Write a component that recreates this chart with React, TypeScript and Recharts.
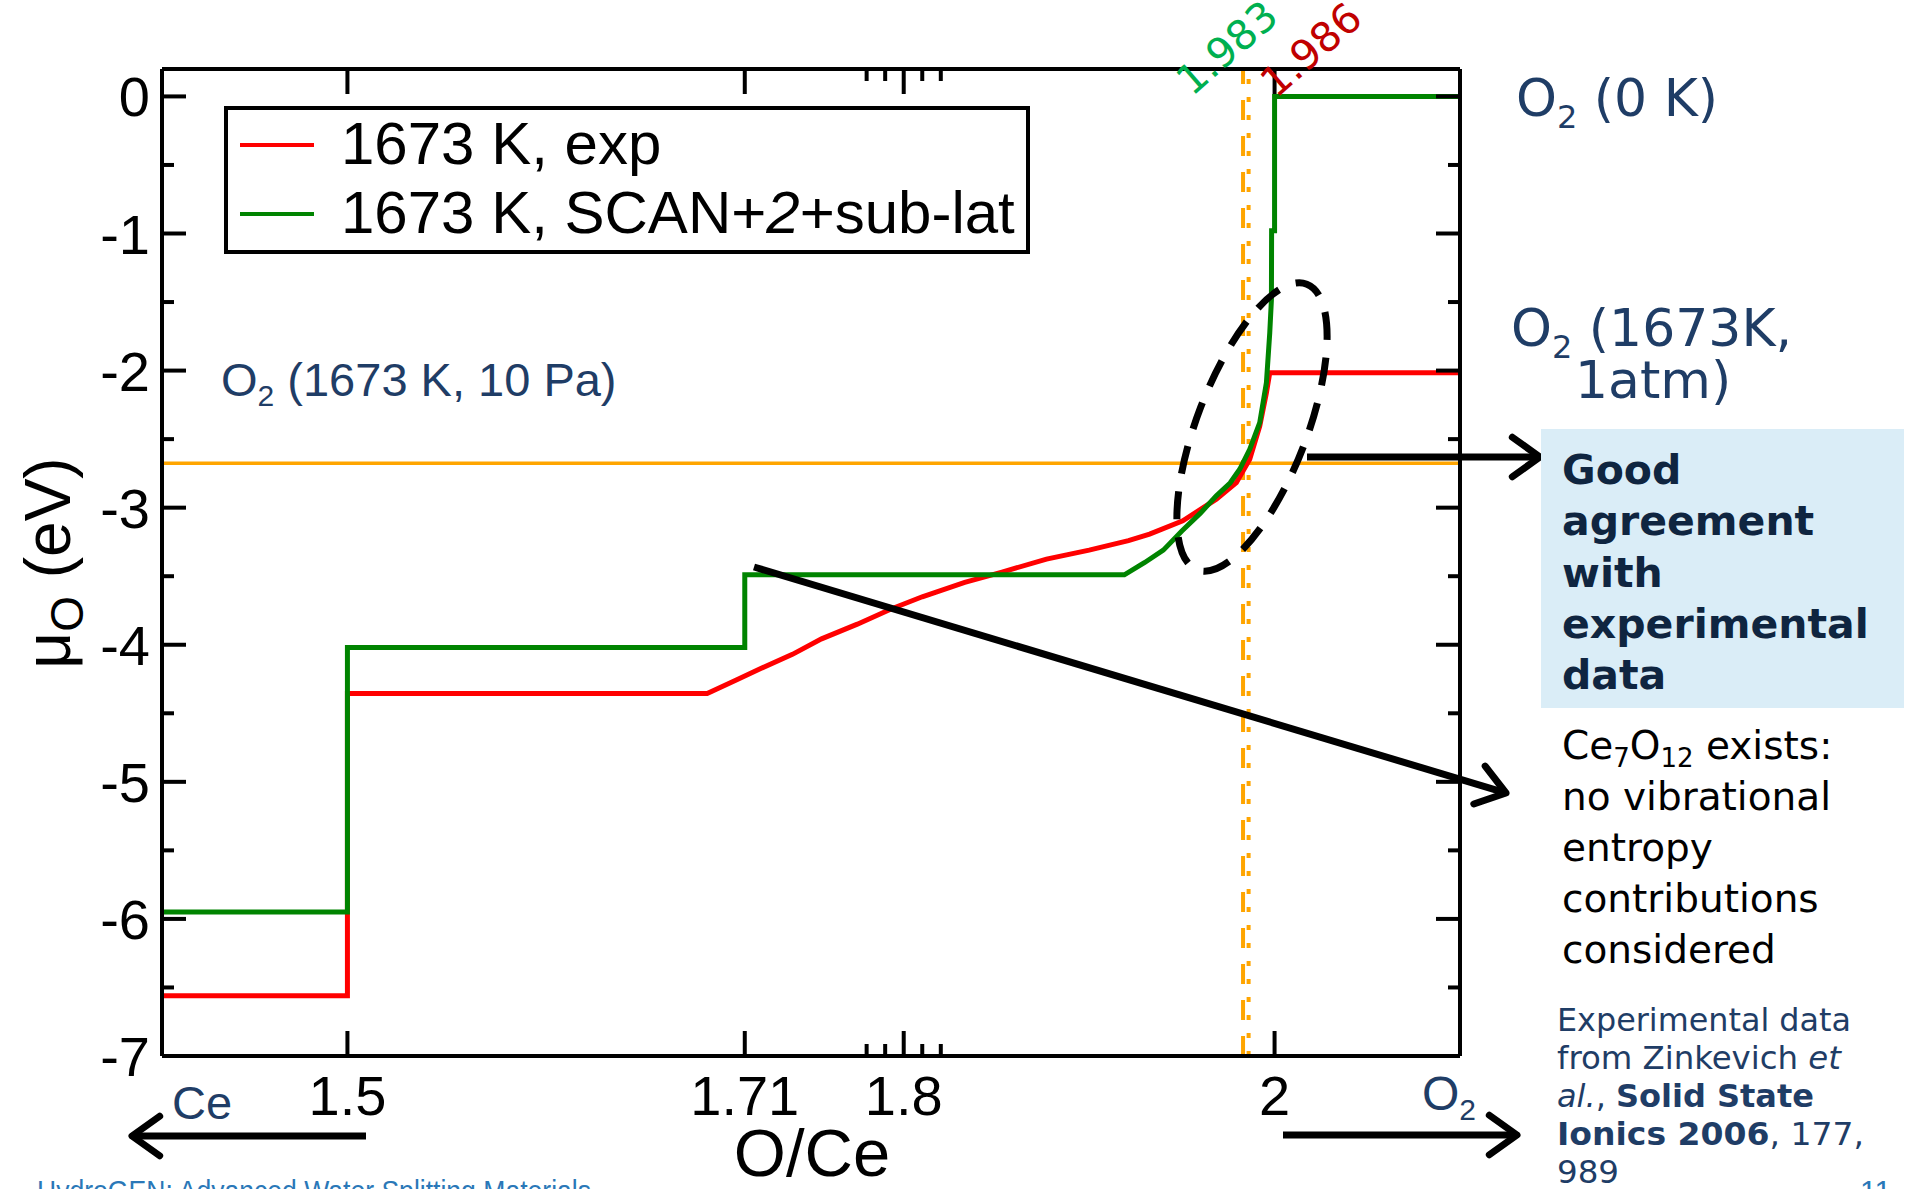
import React from 'react';
import { LineChart, Line, XAxis, YAxis, ReferenceLine, Legend } from 'recharts';

document.body.style.margin = '0';

// O/Ce ratio vs oxygen chemical potential (eV)
const ce7o12 = 12 / 7;
const expX = [1.4, 1.5, 1.5, 1.694, 1.71, 1.7226, 1.74, 1.7557, 1.775, 1.7932, 1.81, 1.8329, 1.853, 1.877, 1.9, 1.9212, 1.9326, 1.9505, 1.9686, 1.9794, 1.9866, 1.992, 1.9956, 1.9974, 2.1];
const expY = [-6.56, -6.56, -4.355, -4.355, -4.255, -4.175, -4.07, -3.957, -3.85, -3.739, -3.65, -3.545, -3.47, -3.375, -3.31, -3.241, -3.193, -3.096, -2.938, -2.817, -2.647, -2.405, -2.162, -2.016, -2.016];
const scanX = [1.4, 1.5, 1.5, ce7o12, ce7o12, 1.919, 1.93, 1.94, 1.95, 1.96, 1.9686, 1.976, 1.9812, 1.9866, 1.992, 1.9956, 1.9974, 1.9983, 1.9984, 2.0, 2.0, 2.1];
const scanY = [-5.95, -5.95, -4.02, -4.02, -3.49, -3.49, -3.4, -3.31, -3.17, -3.04, -2.914, -2.82, -2.72, -2.574, -2.38, -2.089, -1.725, -1.483, -0.98, -0.98, 0, 0];

const seriesNames = ['1673 K, exp', '1673 K, SCAN+2+sub-lat'];
const seriesColors = ['#ff0000', '#008400'];

const xTicks = [1.5, ce7o12, 1.78, 1.79, 1.8, 1.81, 1.82, 2];
const xLabelTicks = [1.5, ce7o12, 1.8, 2];
const xLabelText = ['1.5', '1.71', '1.8', '2'];
const yTicks = [-7, -6.5, -6, -5.5, -5, -4.5, -4, -3.5, -3, -2.5, -2, -1.5, -1, -0.5, 0];

const o2Level = -2.676; // O2 (1673 K, 10 Pa)
const scanCross = 1.983;
const expCross = 1.986;

const expData = expX.map((x, i) => ({ x, y: expY[i] }));
const scanData = scanX.map((x, i) => ({ x, y: scanY[i] }));

const FONT = '"Liberation Sans", Arial, sans-serif';
const VFONT = '"DejaVu Sans", Verdana, sans-serif';
const NAVY = '#1f3d66';

const labelFor = (v: number) => {
  const i = xLabelTicks.findIndex((t) => Math.abs(t - v) < 1e-6);
  return i >= 0 ? xLabelText[i] : null;
};

const BottomTick = (props: any) => {
  const { x, y, payload } = props;
  const lbl = labelFor(payload.value);
  return (
    <g>
      <line x1={x} x2={x} y1={y} y2={y - (lbl ? 25 : 12)} stroke="#000" strokeWidth={4} />
      {lbl && (
        <text x={x} y={y + 59} textAnchor="middle" fontSize={56} fontFamily={FONT} fill="#000">{lbl}</text>
      )}
    </g>
  );
};

const TopTick = (props: any) => {
  const { x, y, payload } = props;
  const lbl = labelFor(payload.value);
  return <line x1={x} x2={x} y1={y} y2={y + (lbl ? 25 : 12)} stroke="#000" strokeWidth={4} />;
};

const LeftTick = (props: any) => {
  const { x, y, payload } = props;
  const major = Number.isInteger(payload.value);
  return (
    <g>
      <line x1={x} x2={x + (major ? 24 : 12)} y1={y} y2={y} stroke="#000" strokeWidth={4} />
      {major && (
        <text x={x - 12} y={y + 20} textAnchor="end" fontSize={56} fontFamily={FONT} fill="#000">{payload.value}</text>
      )}
    </g>
  );
};

const RightTick = (props: any) => {
  const { x, y, payload } = props;
  const major = Number.isInteger(payload.value);
  return <line x1={x} x2={x - (major ? 24 : 12)} y1={y} y2={y} stroke="#000" strokeWidth={4} />;
};

const LegendBox = () => (
  <div style={{ position: 'relative', width: 806, height: 148, border: '4px solid #000', boxSizing: 'border-box', background: '#fff', fontFamily: FONT, fontSize: 60, lineHeight: '60px' }}>
    {seriesNames.map((n, i) => (
      <React.Fragment key={n}>
        <div style={{ position: 'absolute', left: 12, top: i === 0 ? 33 : 102, width: 74, height: 4, background: seriesColors[i] }} />
        <div style={{ position: 'absolute', left: 113, top: i === 0 ? 4 : 73, whiteSpace: 'nowrap' }}>
          {i === 0 ? n : (<>1673 K, SCAN+<i>2</i>+sub-lat</>)}
        </div>
      </React.Fragment>
    ))}
  </div>
);

const arrow = (x1: number, y1: number, x2: number, y2: number, key: string) => {
  const a = Math.atan2(y2 - y1, x2 - x1);
  const L = 34;
  const h = 0.62;
  const p1 = `${x2 - L * Math.cos(a - h)},${y2 - L * Math.sin(a - h)}`;
  const p2 = `${x2 - L * Math.cos(a + h)},${y2 - L * Math.sin(a + h)}`;
  return (
    <g key={key} stroke="#000" strokeWidth={7} fill="none" strokeLinecap="round" strokeLinejoin="round">
      <line x1={x1} y1={y1} x2={x2 - 4 * Math.cos(a)} y2={y2 - 4 * Math.sin(a)} strokeLinecap="butt" />
      <polyline points={`${p1} ${x2},${y2} ${p2}`} />
    </g>
  );
};

export default function App() {
  return (
    <div style={{ position: 'relative', width: 1911, height: 1189, overflow: 'hidden', background: '#fff' }}>
      <LineChart width={1911} height={1189} margin={{ top: 68, right: 450, bottom: 132, left: 161 }}>
        <XAxis xAxisId="b" dataKey="x" type="number" domain={[1.4, 2.1]} allowDataOverflow ticks={xTicks} interval={0}
          height={1} tickSize={0} tickMargin={0} tickLine={false} tick={<BottomTick />} axisLine={{ stroke: '#000', strokeWidth: 4 }} />
        <XAxis xAxisId="t" orientation="top" dataKey="x" type="number" domain={[1.4, 2.1]} allowDataOverflow ticks={xTicks} interval={0}
          height={1} tickSize={0} tickMargin={0} tickLine={false} tick={<TopTick />} axisLine={{ stroke: '#000', strokeWidth: 4 }} />
        <YAxis yAxisId="l" type="number" domain={[-7, 0.2]} allowDataOverflow ticks={yTicks} interval={0}
          width={1} tickSize={0} tickMargin={0} tickLine={false} tick={<LeftTick />} axisLine={{ stroke: '#000', strokeWidth: 4 }} />
        <YAxis yAxisId="r" orientation="right" type="number" domain={[-7, 0.2]} allowDataOverflow ticks={yTicks} interval={0}
          width={1} tickSize={0} tickMargin={0} tickLine={false} tick={<RightTick />} axisLine={{ stroke: '#000', strokeWidth: 4 }} />
        <ReferenceLine xAxisId="b" yAxisId="l" y={o2Level} stroke="#ffa500" strokeWidth={3.5} />
        <ReferenceLine xAxisId="b" yAxisId="l" x={scanCross} stroke="#ffa500" strokeWidth={4} strokeDasharray="20 16" />
        <ReferenceLine xAxisId="b" yAxisId="l" x={expCross} stroke="#ffa500" strokeWidth={4} strokeDasharray="5 13" />
        <Line xAxisId="b" yAxisId="l" data={expData} dataKey="y" name={seriesNames[0]} type="linear" stroke={seriesColors[0]}
          strokeWidth={5} dot={false} activeDot={false} isAnimationActive={false} />
        <Line xAxisId="b" yAxisId="l" data={scanData} dataKey="y" name={seriesNames[1]} type="linear" stroke={seriesColors[1]}
          strokeWidth={5} dot={false} activeDot={false} isAnimationActive={false} />
        <Legend layout="vertical" align="center" verticalAlign="middle" content={<LegendBox />}
          wrapperStyle={{ left: 224, top: 106, width: 806, height: 148 }} />
      </LineChart>

      <svg width={1911} height={1189} style={{ position: 'absolute', left: 0, top: 0, pointerEvents: 'none' }}>
        {/* axis titles */}
        <text transform="translate(70,563) rotate(-90)" textAnchor="middle" fontSize={64} fontFamily={FONT} fill="#000">
          μ<tspan fontSize={46} dy={13}>O</tspan><tspan dy={-13}> (eV)</tspan>
        </text>
        <text x={812} y={1176} textAnchor="middle" fontSize={67} fontFamily={FONT} fill="#000">O/Ce</text>

        {/* crossing labels */}
        <text transform="translate(1192,97) rotate(-41)" fontSize={41} fontFamily={VFONT} fill="#00b050">1.983</text>
        <text transform="translate(1276,99) rotate(-41)" fontSize={41} fontFamily={VFONT} fill="#c00000">1.986</text>

        {/* O2 level labels */}
        <text x={221} y={396} fontSize={47} fontFamily={FONT} fill={NAVY}>
          O<tspan fontSize={30} dy={10}>2</tspan><tspan dy={-10}> (1673 K, 10 Pa)</tspan>
        </text>
        <text x={1516} y={116} fontSize={52} fontFamily={VFONT} fill={NAVY}>
          O<tspan fontSize={32} dy={12}>2</tspan><tspan dy={-12}> (0 K)</tspan>
        </text>
        <text x={1511} y={346} fontSize={52} fontFamily={VFONT} fill={NAVY}>
          O<tspan fontSize={32} dy={12}>2</tspan><tspan dy={-12}> (1673K,</tspan>
        </text>
        <text x={1575} y={398} fontSize={52} fontFamily={VFONT} fill={NAVY}>1atm)</text>
        <text x={172} y={1119} fontSize={47} fontFamily={FONT} fill={NAVY}>Ce</text>
        <text x={1422} y={1110} fontSize={48} fontFamily={FONT} fill={NAVY}>
          O<tspan fontSize={30} dy={10}>2</tspan>
        </text>

        {/* highlight ellipse */}
        <ellipse cx={1252} cy={427} rx={55} ry={153} transform="rotate(21 1252 427)" fill="none" stroke="#000" strokeWidth={7} strokeDasharray="28 18" />

        {arrow(1307, 457, 1540, 457, 'a1')}
        {arrow(754, 567, 1506, 793, 'a2')}
        {arrow(366, 1136, 132, 1136, 'a3')}
        {arrow(1283, 1135, 1517, 1135, 'a4')}

        {/* notes */}
        <rect x={1541} y={429} width={363} height={279} fill="#daedf7" />
        {['Good', 'agreement', 'with', 'experimental', 'data'].map((t, i) => (
          <text key={t} x={1562} y={484 + i * 51.3} fontSize={41} fontWeight="bold" fontFamily={VFONT} fill="#0f2540">{t}</text>
        ))}
        <text x={1562} y={759} fontSize={39} fontFamily={VFONT} fill="#000">
          Ce<tspan fontSize={26} dy={8}>7</tspan><tspan dy={-8}>O</tspan><tspan fontSize={26} dy={8}>12</tspan><tspan dy={-8}> exists:</tspan>
        </text>
        {['no vibrational', 'entropy', 'contributions', 'considered'].map((t, i) => (
          <text key={t} x={1562} y={810 + i * 51} fontSize={39} fontFamily={VFONT} fill="#000">{t}</text>
        ))}

        <g fontFamily='"DejaVu Sans Condensed", "DejaVu Sans", sans-serif' fontSize={32} fill={NAVY}>
          <text x={1557} y={1031} textLength={294} lengthAdjust="spacingAndGlyphs">Experimental data</text>
          <text x={1557} y={1069} textLength={284} lengthAdjust="spacingAndGlyphs">from Zinkevich <tspan fontStyle="italic">et</tspan></text>
          <text x={1557} y={1107} textLength={257} lengthAdjust="spacingAndGlyphs"><tspan fontStyle="italic">al.</tspan>, <tspan fontWeight="bold">Solid State</tspan></text>
          <text x={1557} y={1145} textLength={307} lengthAdjust="spacingAndGlyphs"><tspan fontWeight="bold">Ionics 2006</tspan>, 177,</text>
          <text x={1557} y={1183} textLength={62} lengthAdjust="spacingAndGlyphs">989</text>
        </g>

        <text x={37} y={1201} fontSize={30} fontFamily={FONT} fill="#2a78b8" textLength={554} lengthAdjust="spacingAndGlyphs">HydroGEN: Advanced Water Splitting Materials</text>
        <text x={1860} y={1201} fontSize={30} fontFamily={FONT} fill="#2a78b8">11</text>
      </svg>
    </div>
  );
}
